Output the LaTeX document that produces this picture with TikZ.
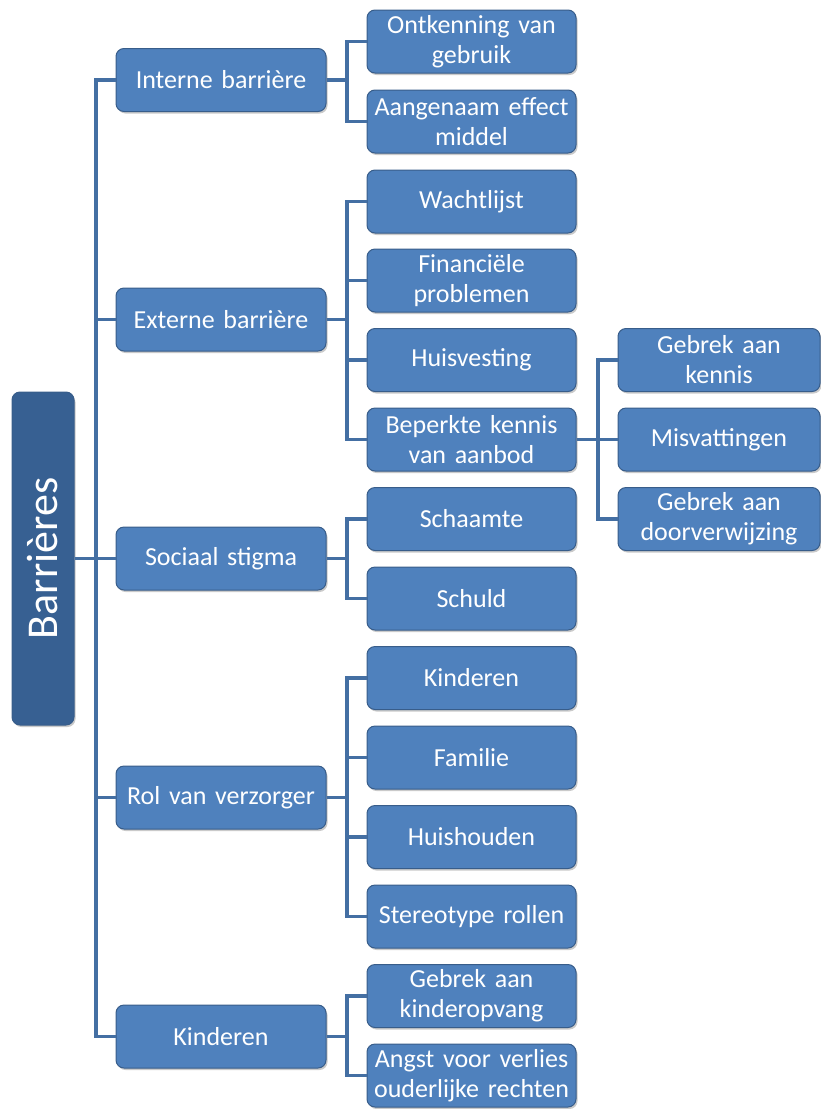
\documentclass[tikz,border=0pt]{standalone}
\usepackage{fontspec}
\setmainfont{Carlito}[WordSpace=0.8]
\usetikzlibrary{shadows,calc}
\definecolor{boxfill}{RGB}{79,129,189}
\definecolor{boxline}{RGB}{56,93,138}
\definecolor{rootfill}{RGB}{55,96,146}
\definecolor{linkcol}{RGB}{68,111,163}
\tikzset{
  bx/.style={draw=boxline, line width=1pt, fill=boxfill, rounded corners=8pt,
    text=white, align=center, font=\fontsize{26}{30}\selectfont,
    minimum height=63pt, inner sep=0pt,
    drop shadow={shadow xshift=1.5pt, shadow yshift=-2pt, opacity=0.35, fill=black!60}},
  lone/.style={bx, minimum width=210pt, text width=209pt},
  ltwo/.style={bx, minimum width=209pt, text width=208pt},
  lthree/.style={bx, minimum width=202pt, text width=201pt},
  link/.style={draw=linkcol, line width=3.6pt}
}
\begin{document}
\begin{tikzpicture}[x=1pt,y=-1pt]
\useasboundingbox (0,0) rectangle (820,1109);
% root
\node[bx, fill=rootfill, minimum width=62pt, minimum height=333pt,
  font=\fontsize{44}{50}\selectfont] (root) at (43,558.5) {\rotatebox{90}{Barrières}};
% level 1
\node[lone] (ib) at (221,80) {Interne barrière};
\node[lone] (eb) at (221,319.5) {Externe barrière};
\node[lone] (ss) at (221,558.5) {Sociaal stigma};
\node[lone] (rv) at (221,797.5) {Rol van verzorger};
\node[lone] (ki) at (221,1036.5) {Kinderen};
% level 2
\node[ltwo] (c1) at (471.5,41.5) {Ontkenning van\\gebruik};
\node[ltwo] (c2) at (471.5,121.5) {Aangenaam effect\\middel};
\node[ltwo] (c3) at (471.5,201.5) {Wachtlijst};
\node[ltwo] (c4) at (471.5,280.5) {Financiële\\problemen};
\node[ltwo] (c5) at (471.5,360) {Huisvesting};
\node[ltwo] (c6) at (471.5,439.5) {Beperkte kennis\\van aanbod};
\node[ltwo] (c7) at (471.5,519) {Schaamte};
\node[ltwo] (c8) at (471.5,598.5) {Schuld};
\node[ltwo] (c9) at (471.5,678) {Kinderen};
\node[ltwo] (c10) at (471.5,757.5) {Familie};
\node[ltwo] (c11) at (471.5,837) {Huishouden};
\node[ltwo] (c12) at (471.5,916.5) {Stereotype rollen};
\node[ltwo] (c13) at (471.5,996) {Gebrek aan\\kinderopvang};
\node[ltwo] (c14) at (471.5,1075.5) {Angst voor verlies\\ouderlijke rechten};
% level 3
\node[lthree] (d1) at (719,360) {Gebrek aan\\kennis};
\node[lthree] (d2) at (719,439.5) {Misvattingen};
\node[lthree] (d3) at (719,519) {Gebrek aan\\doorverwijzing};
% bracket coordinates
\coordinate (t1) at (96,0);
\coordinate (t2) at (347,0);
\coordinate (t3) at (598,0);
% connectors
\draw[link] (root.east) -- (root.east -| t1);
\foreach \n in {ib,eb,ss,rv,ki} {\draw[link] (root.east -| t1) |- (\n.west);}
\foreach \n in {c1,c2} {\draw[link] (ib.east) -- (ib.east -| t2) |- (\n.west);}
\foreach \n in {c3,c4,c5,c6} {\draw[link] (eb.east) -- (eb.east -| t2) |- (\n.west);}
\foreach \n in {c7,c8} {\draw[link] (ss.east) -- (ss.east -| t2) |- (\n.west);}
\foreach \n in {c9,c10,c11,c12} {\draw[link] (rv.east) -- (rv.east -| t2) |- (\n.west);}
\foreach \n in {c13,c14} {\draw[link] (ki.east) -- (ki.east -| t2) |- (\n.west);}
\foreach \n in {d1,d2,d3} {\draw[link] (c6.east) -- (c6.east -| t3) |- (\n.west);}
\end{tikzpicture}
\end{document}
